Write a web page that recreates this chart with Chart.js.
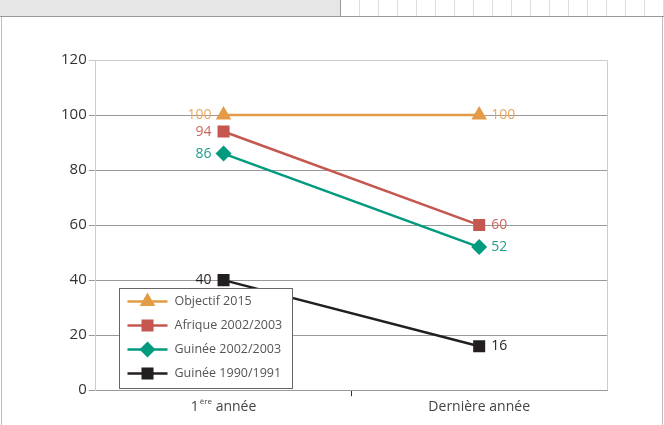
<!DOCTYPE html>
<html>
<head>
<meta charset="utf-8">
<script src="https://cdn.jsdelivr.net/npm/chart.js@4.4.0/dist/chart.umd.min.js"></script>
<style>
  body { margin: 0; background: #fff; }
  #wrap { position: relative; width: 664px; height: 425px; overflow: hidden; }
  #onglet { position: absolute; left: 0; top: 0; width: 340px; height: 16px; background: #e6e6e7; border-right: 1px solid #999; border-bottom: 1px solid #999; }
  #grille { position: absolute; left: 341px; top: 0; width: 323px; height: 16px; border-bottom: 1px solid #999;
            background-image: repeating-linear-gradient(to right, transparent 0 18px, #ddd 18px 19px); }
  #cadre { position: absolute; left: 1px; top: 17px; width: 660px; height: 420px; border-left: 1px solid #bbb; border-right: 1px solid #bbb; }
  #zone { position: absolute; left: 0; top: 0; width: 664px; height: 425px; }
</style>
</head>
<body>
<div id="wrap">
  <div id="onglet"></div>
  <div id="grille"></div>
  <div id="cadre"></div>
  <div id="zone"><canvas id="chartScolarisation"></canvas></div>
</div>
<script>
var annees = ['1ère année', 'Dernière année'];
var objectif = [100, 100];
var afrique = [94, 60];
var guinee2002 = [86, 52];
var guinee1990 = [40, 16];
var graduations = [0, 20, 40, 60, 80, 100, 120];

var police = '"Open Sans", sans-serif';

// couleurs des étiquettes de valeurs (un peu plus claires que les lignes)
var couleursEtiquettes = ['#e9a95e', '#c9675e', '#1b9d87', '#231f20'];

// cadre gris clair autour de la zone de tracé
var cadrePlugin = {
    id: 'cadre',
    beforeDatasetsDraw: function (chart) {
        var ctx = chart.ctx, ca = chart.chartArea;
        ctx.save();
        ctx.strokeStyle = '#cccccc';
        ctx.lineWidth = 1;
        ctx.beginPath();
        ctx.moveTo(ca.left, ca.top + 0.5);
        ctx.lineTo(ca.right + 0.5, ca.top + 0.5);
        ctx.lineTo(ca.right + 0.5, ca.bottom);
        ctx.stroke();
        ctx.restore();
    }
};

// valeurs à gauche du premier point, à droite du dernier
var etiquettesPlugin = {
    id: 'etiquettes',
    afterDatasetsDraw: function (chart) {
        var ctx = chart.ctx;
        ctx.save();
        ctx.font = '14px ' + police;
        ctx.textBaseline = 'middle';
        chart.data.datasets.forEach(function (ds, i) {
            var meta = chart.getDatasetMeta(i);
            ctx.fillStyle = couleursEtiquettes[i];
            meta.data.forEach(function (pt, j) {
                if (j === 0) {
                    ctx.textAlign = 'right';
                    ctx.fillText(ds.data[j], pt.x - 12, pt.y);
                } else {
                    ctx.textAlign = 'left';
                    ctx.fillText(ds.data[j], pt.x + 12, pt.y);
                }
            });
        });
        ctx.restore();
    }
};

// libellés de l'axe x (avec exposant pour "ère")
var axeXPlugin = {
    id: 'axeX',
    afterDraw: function (chart) {
        var ctx = chart.ctx, sx = chart.scales.x;
        var y = sx.top + 17;
        ctx.save();
        ctx.fillStyle = '#444';
        ctx.textBaseline = 'middle';
        ctx.textAlign = 'left';
        annees.forEach(function (lab, i) {
            var x = sx.getPixelForValue(i);
            var m = lab.match(/^(\d+)(ère)(.*)$/);
            if (m) {
                ctx.font = '14px ' + police;
                var w1 = ctx.measureText(m[1]).width;
                var w3 = ctx.measureText(m[3]).width;
                ctx.font = '8px ' + police;
                var w2 = ctx.measureText(m[2]).width + 1;
                var x0 = x - (w1 + w2 + w3) / 2;
                ctx.font = '14px ' + police;
                ctx.fillText(m[1], x0, y);
                ctx.font = '8px ' + police;
                ctx.fillText(m[2], x0 + w1 + 1, y - 5);
                ctx.font = '14px ' + police;
                ctx.fillText(m[3], x0 + w1 + w2, y);
            } else {
                ctx.font = '14px ' + police;
                ctx.fillText(lab, x - ctx.measureText(lab).width / 2, y);
            }
        });
        ctx.restore();
    }
};

// légende encadrée dans la zone de tracé
var legendePlugin = {
    id: 'legende',
    afterDraw: function (chart) {
        var ctx = chart.ctx, ca = chart.chartArea;
        var bx = Math.round(ca.left) + 23.5, by = Math.round(ca.bottom) - 101.5, bw = 173, bh = 100;
        ctx.save();
        ctx.fillStyle = '#fff';
        ctx.fillRect(bx, by, bw, bh);
        ctx.strokeStyle = '#666';
        ctx.lineWidth = 1;
        ctx.strokeRect(bx, by, bw, bh);
        chart.data.datasets.forEach(function (ds, i) {
            var y = by + 13 + i * 24;
            ctx.strokeStyle = ds.borderColor;
            ctx.lineWidth = 2.5;
            ctx.beginPath();
            ctx.moveTo(bx + 8, y);
            ctx.lineTo(bx + 48, y);
            ctx.stroke();
            ctx.fillStyle = ds.borderColor;
            Chart.helpers.drawPoint(ctx, {
                pointStyle: ds.pointStyle,
                radius: ds.pointRadius,
                rotation: 0,
                borderWidth: 0
            }, bx + 28, y);
            ctx.fillStyle = '#555';
            ctx.font = '12.5px ' + police;
            ctx.textAlign = 'left';
            ctx.textBaseline = 'middle';
            ctx.fillText(ds.label, bx + 55, y);
        });
        ctx.restore();
    }
};

function serie(label, data, couleur, forme, rayon) {
    return {
        label: label,
        data: data,
        borderColor: couleur,
        backgroundColor: couleur,
        borderWidth: 2.5,
        pointStyle: forme,
        pointRadius: rayon,
        pointHoverRadius: rayon,
        pointBorderWidth: 0,
        tension: 0
    };
}

new Chart(document.getElementById('chartScolarisation'), {
    type: 'line',
    data: {
        labels: annees,
        datasets: [
            serie('Objectif 2015', objectif, '#e39c45', 'triangle', 9),
            serie('Afrique 2002/2003', afrique, '#c4574f', 'rect', 8.5),
            serie('Guinée 2002/2003', guinee2002, '#009a7e', 'rectRot', 8),
            serie('Guinée 1990/1991', guinee1990, '#231f20', 'rect', 8.5)
        ]
    },
    options: {
        responsive: true,
        maintainAspectRatio: false,
        animation: false,
        layout: {
            padding: { top: 60, left: 59, right: 57, bottom: 6 }
        },
        plugins: {
            legend: { display: false },
            tooltip: { enabled: false }
        },
        scales: {
            x: {
                offset: true,
                grid: {
                    offset: true,
                    drawOnChartArea: false,
                    color: function (c) { return c.index === 1 ? '#333' : 'rgba(0,0,0,0)'; },
                    tickLength: 6
                },
                border: { color: '#999' },
                ticks: {
                    color: 'rgba(0,0,0,0)',
                    font: { family: police, size: 14 },
                    padding: 3
                }
            },
            y: {
                min: 0,
                max: 120,
                afterBuildTicks: function (axis) {
                    axis.ticks = graduations.map(function (v) { return { value: v }; });
                },
                grid: {
                    color: function (c) { return c.tick && c.tick.value === 120 ? '#cccccc' : '#999999'; },
                    tickLength: 7
                },
                border: { color: '#cccccc' },
                ticks: {
                    color: '#333',
                    font: { family: police, size: 15 },
                    padding: 2
                }
            }
        }
    },
    plugins: [cadrePlugin, etiquettesPlugin, axeXPlugin, legendePlugin]
});
</script>
</body>
</html>
